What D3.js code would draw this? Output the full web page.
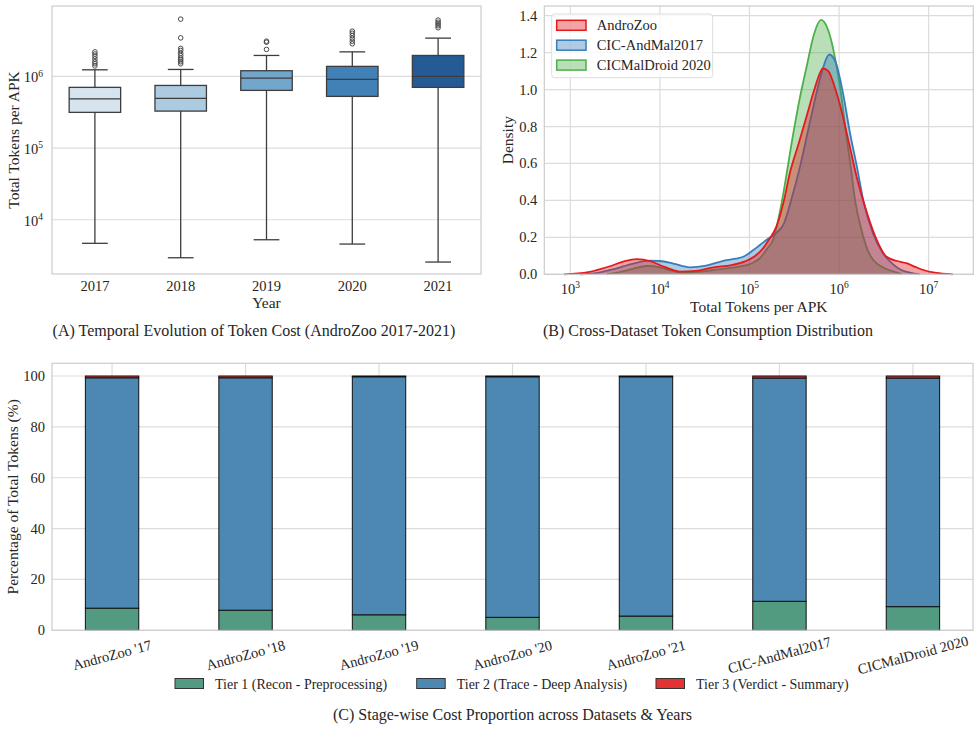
<!DOCTYPE html>
<html><head><meta charset="utf-8">
<script src="https://cdn.jsdelivr.net/npm/d3@7"></script>
<style>
body{margin:0;background:#fff;}
text{font-family:"Liberation Serif","Times New Roman",serif;fill:#262626;}
</style></head>
<body><svg id="c" width="980" height="730"></svg>
<script>
// ---------- Panel A data ----------
const years = ["2017","2018","2019","2020","2021"];
const boxQ1 = [315000, 328000, 638000, 526000, 703000];
const boxMed = [487000, 493000, 947000, 908000, 1000000];
const boxQ3 = [703000, 748000, 1200000, 1380000, 1960000];
const whiskLo = [4690, 2950, 5260, 4580, 2570];
const whiskHi = [1236000, 1250000, 1960000, 2200000, 3420000];
const outliers = [
  [1400000,1500000,1600000,1750000,1900000,2050000,2200000],
  [1500000,1600000,1700000,1800000,1950000,2100000,2300000,2460000,3450000,6300000],
  [2380000,3000000,3100000],
  [2850000,3100000,3400000,3700000,4000000,4280000],
  [4770000,5100000,5400000,5700000,6100000]
];
const boxColors = ["#d6e4f0","#adcbe0","#73a6cb","#4281b5","#245b94"];
const yTicksA = [1e4,1e5,1e6];

// ---------- Panel B data (log10 tokens, density) ----------
const kdeNames = ["AndroZoo","CIC-AndMal2017","CICMalDroid 2020"];
const kdeColors = ["#e41a1c","#377eb8","#4daf4a"];
const andLx = [2.93,3.2,3.45,3.6,3.74,3.9,4.05,4.22,4.4,4.6,4.8,4.95,5.05,5.15,5.22,5.3,5.38,5.45,5.55,5.64,5.73,5.82,5.88,5.96,6.04,6.12,6.2,6.29,6.4,6.53,6.65,6.75,6.85,6.95,7.05,7.15,7.27];
const andD  = [0,0.012,0.045,0.07,0.082,0.07,0.04,0.015,0.018,0.038,0.05,0.07,0.095,0.14,0.19,0.258,0.39,0.547,0.71,0.86,1.01,1.115,1.10,1.0,0.86,0.69,0.52,0.366,0.21,0.095,0.072,0.06,0.04,0.022,0.01,0.004,0];
const cicLx = [3.11,3.3,3.5,3.7,3.89,4.0,4.15,4.335,4.5,4.65,4.745,4.85,4.93,5.04,5.12,5.2,5.3,5.38,5.47,5.564,5.65,5.73,5.81,5.89,5.96,6.04,6.12,6.2,6.27,6.38,6.49,6.6,6.7,6.8,6.9];
const cicD  = [0,0.008,0.03,0.058,0.074,0.072,0.058,0.038,0.045,0.065,0.077,0.085,0.095,0.13,0.16,0.19,0.225,0.27,0.41,0.583,0.77,0.944,1.10,1.19,1.15,0.99,0.77,0.58,0.40,0.22,0.114,0.055,0.022,0.008,0];
const malLx = [3.41,3.55,3.7,3.853,4.0,4.13,4.26,4.4,4.58,4.745,4.88,4.97,5.05,5.117,5.2,5.266,5.3,5.36,5.489,5.56,5.638,5.72,5.798,5.88,5.973,6.03,6.077,6.13,6.178,6.25,6.32,6.382,6.5,6.64,6.7];
const malD  = [0,0.012,0.03,0.045,0.038,0.02,0.009,0.012,0.022,0.032,0.042,0.05,0.065,0.087,0.14,0.19,0.25,0.39,0.763,0.95,1.124,1.30,1.377,1.32,1.124,0.95,0.763,0.58,0.402,0.24,0.13,0.077,0.035,0.01,0];
const yTicksB = [0,0.2,0.4,0.6,0.8,1.0,1.2,1.4];
const xTicksB = [1e3,1e4,1e5,1e6,1e7];

// ---------- Panel C data ----------
const datasets = ["AndroZoo '17","AndroZoo '18","AndroZoo '19","AndroZoo '20","AndroZoo '21","CIC-AndMal2017","CICMalDroid 2020"];
const tier1 = [8.7, 7.9, 6.1, 5.1, 5.6, 11.4, 9.3];
const tier2 = [90.6, 91.4, 93.6, 94.6, 94.1, 87.8, 89.9];
const tier3 = [0.7, 0.7, 0.3, 0.3, 0.3, 0.8, 0.8];
const tierNames = ["Tier 1 (Recon - Preprocessing)","Tier 2 (Trace - Deep Analysis)","Tier 3 (Verdict - Summary)"];
const tierColors = ["#529b80","#4c88b2","#e33232"];
const yTicksC = [0,20,40,60,80,100];

const svg = d3.select("#c");
const GRID="#dcdcdc", SPINE="#cccccc";
function powLabel(sel, v){
  const e = Math.round(Math.log10(v));
  sel.text(null);
  sel.append("tspan").text("10");
  sel.append("tspan").attr("dy","-0.6em").attr("font-size","9.5px").text(String(e));
}

// ================= Panel A =================
{
  const L=52,R=481,T=6,B=274;
  const x = d3.scaleBand().domain(years).range([L,R]);
  const y = d3.scaleLog().domain([1750, 9.6e6]).range([B,T]);
  const g = svg.append("g");
  yTicksA.forEach(t=>{
    g.append("line").attr("x1",L).attr("x2",R).attr("y1",y(t)).attr("y2",y(t)).attr("stroke",GRID).attr("stroke-width",1.2);
    const tx = g.append("text").attr("x",L-9).attr("y",y(t)+6).attr("text-anchor","end").attr("font-size","14.5px");
    powLabel(tx,t);
  });
  g.append("rect").attr("x",L).attr("y",T).attr("width",R-L).attr("height",B-T).attr("fill","none").attr("stroke",SPINE).attr("stroke-width",1.2);
  const bw = x.bandwidth()*0.6;
  years.forEach((yr,i)=>{
    const cx = x(yr)+x.bandwidth()/2;
    const ec = "#3d3d3d";
    g.append("line").attr("x1",cx).attr("x2",cx).attr("y1",y(whiskLo[i])).attr("y2",y(boxQ1[i])).attr("stroke",ec).attr("stroke-width",1.3);
    g.append("line").attr("x1",cx).attr("x2",cx).attr("y1",y(whiskHi[i])).attr("y2",y(boxQ3[i])).attr("stroke",ec).attr("stroke-width",1.3);
    g.append("line").attr("x1",cx-bw/4).attr("x2",cx+bw/4).attr("y1",y(whiskLo[i])).attr("y2",y(whiskLo[i])).attr("stroke",ec).attr("stroke-width",1.3);
    g.append("line").attr("x1",cx-bw/4).attr("x2",cx+bw/4).attr("y1",y(whiskHi[i])).attr("y2",y(whiskHi[i])).attr("stroke",ec).attr("stroke-width",1.3);
    g.append("rect").attr("x",cx-bw/2).attr("y",y(boxQ3[i])).attr("width",bw).attr("height",y(boxQ1[i])-y(boxQ3[i])).attr("fill",boxColors[i]).attr("stroke",ec).attr("stroke-width",1.3);
    g.append("line").attr("x1",cx-bw/2).attr("x2",cx+bw/2).attr("y1",y(boxMed[i])).attr("y2",y(boxMed[i])).attr("stroke",ec).attr("stroke-width",1.3);
    outliers[i].forEach(v=>{
      g.append("circle").attr("cx",cx).attr("cy",y(v)).attr("r",2.3).attr("fill","none").attr("stroke","#4a4a4a").attr("stroke-width",1);
    });
    g.append("text").attr("x",cx).attr("y",291).attr("text-anchor","middle").attr("font-size","14.5px").text(yr);
  });
  g.append("text").attr("x",(L+R)/2).attr("y",308).attr("text-anchor","middle").attr("font-size","15.5px").text("Year");
  g.append("text").attr("transform",`translate(19,${(T+B)/2}) rotate(-90)`).attr("text-anchor","middle").attr("font-size","15.5px").text("Total Tokens per APK");
  g.append("text").attr("x",254).attr("y",336).attr("text-anchor","middle").attr("font-size","16px").text("(A) Temporal Evolution of Token Cost (AndroZoo 2017-2021)");
}

// ================= Panel B =================
{
  const L=544.3,R=973.3,T=6,B=274.3;
  const x = d3.scaleLog().domain([Math.pow(10,2.71), Math.pow(10,7.498)]).range([L,R]);
  const y = d3.scaleLinear().domain([0,1.4525]).range([B,T]);
  const g = svg.append("g");
  yTicksB.forEach(t=>{
    g.append("line").attr("x1",L).attr("x2",R).attr("y1",y(t)).attr("y2",y(t)).attr("stroke",GRID).attr("stroke-width",1.2);
    g.append("text").attr("x",L-7).attr("y",y(t)+5).attr("text-anchor","end").attr("font-size","14.5px").text(d3.format(".1f")(t));
  });
  xTicksB.forEach(t=>{
    g.append("line").attr("x1",x(t)).attr("x2",x(t)).attr("y1",T).attr("y2",B).attr("stroke",GRID).attr("stroke-width",1.2);
    const tx = g.append("text").attr("x",x(t)).attr("y",294).attr("text-anchor","middle").attr("font-size","14.5px");
    powLabel(tx,t);
  });
  const series = [
    {lx:malLx,d:malD,c:kdeColors[2]},
    {lx:cicLx,d:cicD,c:kdeColors[1]},
    {lx:andLx,d:andD,c:kdeColors[0]}
  ];
  series.forEach(s=>{
    const pts = s.lx.map((v,i)=>[Math.pow(10,v), s.d[i]]);
    const area = d3.area().x(p=>x(p[0])).y0(y(0)).y1(p=>y(p[1])).curve(d3.curveMonotoneX);
    const line = d3.line().x(p=>x(p[0])).y(p=>y(p[1])).curve(d3.curveMonotoneX);
    g.append("path").attr("d",area(pts)).attr("fill",s.c).attr("fill-opacity",0.4);
    g.append("path").attr("d",line(pts)).attr("fill","none").attr("stroke",s.c).attr("stroke-width",1.8);
  });
  g.append("rect").attr("x",L).attr("y",T).attr("width",R-L).attr("height",B-T).attr("fill","none").attr("stroke",SPINE).attr("stroke-width",1.2);
  // legend
  const lg = g.append("g");
  lg.append("rect").attr("x",551.7).attr("y",14).attr("width",161).attr("height",63.7).attr("rx",3).attr("fill","#fff").attr("fill-opacity",0.8).attr("stroke","#dddddd");
  kdeNames.forEach((n,i)=>{
    const yy = 25.3 + i*19.9;
    lg.append("rect").attr("x",556.7).attr("y",yy-5).attr("width",29.3).attr("height",10).attr("fill",kdeColors[i]).attr("fill-opacity",0.4).attr("stroke",kdeColors[i]).attr("stroke-width",1.5);
    lg.append("text").attr("x",596.7).attr("y",yy+5).attr("font-size","14.5px").text(n);
  });
  g.append("text").attr("x",(L+R)/2).attr("y",312).attr("text-anchor","middle").attr("font-size","15.5px").text("Total Tokens per APK");
  g.append("text").attr("transform",`translate(513,${(T+B)/2}) rotate(-90)`).attr("text-anchor","middle").attr("font-size","15.5px").text("Density");
  g.append("text").attr("x",708).attr("y",336).attr("text-anchor","middle").attr("font-size","16px").text("(B) Cross-Dataset Token Consumption Distribution");
}

// ================= Panel C =================
{
  const L=52,R=973,T=363.3,B=630.3;
  const x = d3.scaleLinear().domain([-0.45,6.45]).range([L,R]);
  const y = d3.scaleLinear().domain([0,105]).range([B,T]);
  const g = svg.append("g");
  yTicksC.forEach(t=>{
    g.append("line").attr("x1",L).attr("x2",R).attr("y1",y(t)).attr("y2",y(t)).attr("stroke",GRID).attr("stroke-width",1.2);
    g.append("text").attr("x",L-7).attr("y",y(t)+5).attr("text-anchor","end").attr("font-size","14.5px").text(t);
  });
  datasets.forEach((d,i)=>{
    g.append("line").attr("x1",x(i)).attr("x2",x(i)).attr("y1",T).attr("y2",B).attr("stroke",GRID).attr("stroke-width",1.2);
  });
  const bw = x(0.4)-x(0);
  const tiers=[tier1,tier2,tier3];
  datasets.forEach((d,i)=>{
    let base=0;
    tiers.forEach((arr,k)=>{
      const v=arr[i];
      g.append("rect").attr("x",x(i)-bw/2).attr("y",y(base+v)).attr("width",bw).attr("height",y(base)-y(base+v)).attr("fill",tierColors[k]).attr("stroke","#111").attr("stroke-width",1);
      base+=v;
    });
    g.append("text").attr("transform",`translate(${x(i)},655) rotate(-15)`).attr("text-anchor","middle").attr("dominant-baseline","central").attr("font-size","14.5px").text(d);
  });
  g.append("rect").attr("x",L).attr("y",T).attr("width",R-L).attr("height",B-T).attr("fill","none").attr("stroke",SPINE).attr("stroke-width",1.2);
  const legX=[175,416.7,656];
  tierNames.forEach((n,k)=>{
    g.append("rect").attr("x",legX[k]).attr("y",678.5).attr("width",28.5).attr("height",10).attr("fill",tierColors[k]).attr("stroke","#333").attr("stroke-width",1);
    g.append("text").attr("x",legX[k]+40).attr("y",688.5).attr("font-size","14px").text(n);
  });
  g.append("text").attr("transform",`translate(18,${(T+B)/2}) rotate(-90)`).attr("text-anchor","middle").attr("font-size","15.5px").text("Percentage of Total Tokens (%)");
  g.append("text").attr("x",(L+R)/2).attr("y",720).attr("text-anchor","middle").attr("font-size","16px").text("(C) Stage-wise Cost Proportion across Datasets & Years");
}
</script></body></html>
